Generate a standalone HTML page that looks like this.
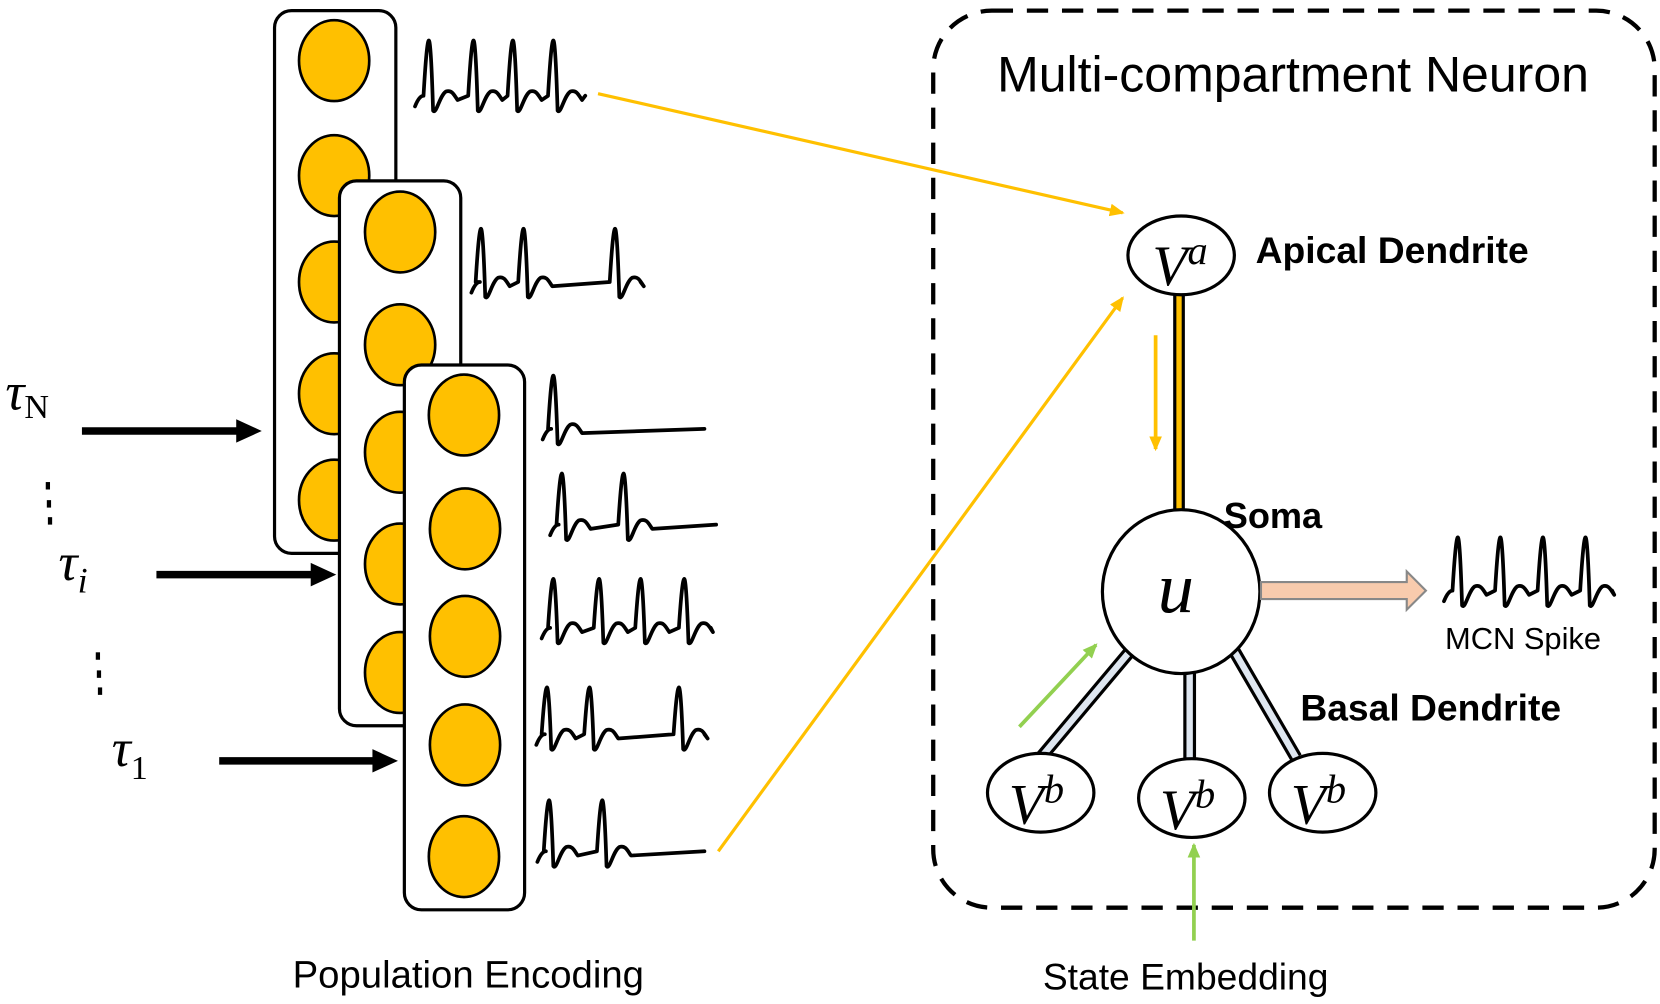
<!DOCTYPE html>
<html><head><meta charset="utf-8"><style>
html,body{margin:0;padding:0;background:#fff;width:1660px;height:1004px;overflow:hidden}
svg{display:block}
.s{fill:none;stroke:#000;stroke-width:3.5;stroke-linejoin:round;stroke-linecap:round}
.c{fill:#FFC000;stroke:#000;stroke-width:2.5}
.r{fill:#fff;stroke:#000;stroke-width:3}
.sans{font-family:"Liberation Sans",sans-serif}
.serif{font-family:"Liberation Serif","DejaVu Serif",serif;font-style:italic}
</style></head><body>
<svg width="1660" height="1004" viewBox="0 0 1560 943.5" xmlns="http://www.w3.org/2000/svg">
<defs>
<marker id="ay" markerWidth="14" markerHeight="12" refX="12" refY="6" orient="auto" markerUnits="userSpaceOnUse"><path d="M0,0 L14,6 L0,12 z" fill="#FFC000"/></marker>
<marker id="ag" markerWidth="14" markerHeight="12" refX="12" refY="6" orient="auto" markerUnits="userSpaceOnUse"><path d="M0,0 L14,6 L0,12 z" fill="#92D050"/></marker>
</defs>
<rect class="r" x="258" y="10" width="114" height="510" rx="16"/>
<g class="c"><ellipse cx="314" cy="57" rx="33" ry="38"/><ellipse cx="314" cy="165" rx="33" ry="38"/><ellipse cx="314" cy="265" rx="33" ry="38"/><ellipse cx="314" cy="370" rx="33" ry="38"/><ellipse cx="314" cy="470" rx="33" ry="38"/></g>
<rect class="r" x="319" y="170" width="114" height="512" rx="16"/>
<g class="c"><ellipse cx="376" cy="218" rx="33" ry="38"/><ellipse cx="376" cy="324" rx="33" ry="38"/><ellipse cx="376" cy="425" rx="33" ry="38"/><ellipse cx="376" cy="530" rx="33" ry="38"/><ellipse cx="376" cy="632" rx="33" ry="38"/></g>
<rect class="r" x="380" y="343" width="113" height="512" rx="16"/>
<g class="c"><ellipse cx="436" cy="390" rx="33" ry="38"/><ellipse cx="437" cy="497" rx="33" ry="38"/><ellipse cx="437" cy="598" rx="33" ry="38"/><ellipse cx="437" cy="700" rx="33" ry="38"/><ellipse cx="436" cy="805" rx="33" ry="38"/></g>
<g id="spikes"></g>
<text class="serif" x="5" y="385" font-size="50">τ<tspan font-style="normal" font-size="32" dy="8">N</tspan></text>
<text class="serif" x="55" y="545" font-size="50">τ<tspan font-size="34" dy="12">i</tspan></text>
<text class="serif" x="105" y="720" font-size="50">τ<tspan font-style="normal" font-size="32" dy="12">1</tspan></text>
<g stroke="#000" stroke-width="7"><line x1="77" y1="405" x2="225" y2="405"/><line x1="147" y1="540" x2="295" y2="540"/><line x1="206" y1="715" x2="353" y2="715"/></g>
<g fill="#000"><path d="M222,394 L246,405 L222,416z"/><path d="M292,529 L316,540 L292,551z"/><path d="M350,704 L374,715 L350,726z"/></g>
<g fill="#000"><rect x="43" y="453" width="4" height="7"/><rect x="44" y="470" width="4" height="7"/><rect x="45" y="486" width="4" height="7"/><rect x="90" y="613" width="4" height="7"/><rect x="91" y="630" width="4" height="7"/><rect x="92" y="646" width="4" height="7"/></g>
<text class="sans" x="275" y="928" font-size="36">Population Encoding</text>
<rect x="877" y="10" width="678" height="843" rx="55" fill="none" stroke="#000" stroke-width="4" stroke-dasharray="20 13"/>
<text class="sans" x="937" y="86" font-size="47">Multi-compartment Neuron</text>
<line x1="562" y1="88" x2="1055" y2="200" stroke="#FFC000" stroke-width="3" marker-end="url(#ay)"/>
<line x1="675" y1="800" x2="1055" y2="280" stroke="#FFC000" stroke-width="3" marker-end="url(#ay)"/>
<line x1="1108" y1="275" x2="1108" y2="492" stroke="#000" stroke-width="11"/>
<line x1="1108" y1="275" x2="1108" y2="492" stroke="#FFC000" stroke-width="5"/>
<line x1="1086" y1="315" x2="1086" y2="422" stroke="#FFC000" stroke-width="3.5" marker-end="url(#ay)"/>
<g stroke="#000" stroke-width="12"><line x1="1062" y1="612" x2="978" y2="712"/><line x1="1118" y1="630" x2="1118" y2="715"/><line x1="1160" y1="612" x2="1218" y2="712"/></g>
<g stroke="#DEE6F0" stroke-width="6"><line x1="1062" y1="612" x2="978" y2="712"/><line x1="1118" y1="630" x2="1118" y2="715"/><line x1="1160" y1="612" x2="1218" y2="712"/></g>
<ellipse cx="1110" cy="240" rx="50" ry="37" fill="#fff" stroke="#000" stroke-width="3"/>
<text class="serif" x="1083" y="268" font-size="54">V<tspan font-size="38" dy="-20">a</tspan></text>
<text class="sans" x="1180" y="247" font-size="35" font-weight="bold">Apical Dendrite</text>
<ellipse cx="1110" cy="556" rx="74" ry="77" fill="#fff" stroke="#000" stroke-width="3"/>
<text class="serif" x="1088" y="575" font-size="68">u</text>
<text class="sans" x="1150" y="496" font-size="34" font-weight="bold">Soma</text>
<path d="M1185,547 L1322,547 L1322,537 L1340,555 L1322,573 L1322,563 L1185,563z" fill="#F8CBAD" stroke="#888" stroke-width="2"/>
<text class="sans" x="1358" y="610" font-size="29">MCN Spike</text>
<ellipse cx="978" cy="745" rx="50" ry="37" fill="#fff" stroke="#000" stroke-width="3"/>
<ellipse cx="1120" cy="750" rx="50" ry="37" fill="#fff" stroke="#000" stroke-width="3"/>
<ellipse cx="1243" cy="745" rx="50" ry="37" fill="#fff" stroke="#000" stroke-width="3"/>
<text class="serif" x="948" y="774" font-size="54">V<tspan font-size="38" dy="-20">b</tspan></text>
<text class="serif" x="1090" y="779" font-size="54">V<tspan font-size="38" dy="-20">b</tspan></text>
<text class="serif" x="1213" y="774" font-size="54">V<tspan font-size="38" dy="-20">b</tspan></text>
<text class="sans" x="1222" y="677" font-size="35" font-weight="bold">Basal Dendrite</text>
<line x1="958" y1="683" x2="1030" y2="606" stroke="#92D050" stroke-width="3.5" marker-end="url(#ag)"/>
<line x1="1122" y1="884" x2="1122" y2="794" stroke="#92D050" stroke-width="3.5" marker-end="url(#ag)"/>
<text class="sans" x="980" y="930" font-size="35">State Embedding</text>
</svg>
<script>
function train(x0,x1,b,h,sp){
  var d="M"+x0+","+(b+10)+" Q"+(x0+4)+","+b+" "+(x0+8)+","+b;
  sp.forEach(function(x){
    d+=" L"+(x-5)+","+b+" Q"+(x-2)+","+(b-h)+" "+x+","+(b-h)+" Q"+(x+2)+","+(b-h)+" "+(x+4)+","+(b+14)
      +" C"+(x+7)+","+(b+18)+" "+(x+10)+","+b+" "+(x+16)+","+(b-4)
      +" C"+(x+22)+","+(b-6)+" "+(x+24)+","+b+" "+(x+27)+","+(b+4);
  });
  d+=" L"+x1+","+b;
  return '<path class="s" d="'+d+'"/>';
}
var h="";
h+=train(390,550,90,52,[403,445,482,520]);
h+=train(443,602,265,50,[452,492,578]);
h+=train(510,662,403,50,[520]);
h+=train(517,673,493,48,[528,586]);
h+=train(509,668,590,46,[520,563,602,643]);
h+=train(504,662,690,44,[514,554,638]);
h+=train(505,662,800,48,[516,566]);
h+=train(1357,1515,555,50,[1370,1410,1450,1490]);
document.getElementById("spikes").innerHTML=h;
</script>
</body></html>
